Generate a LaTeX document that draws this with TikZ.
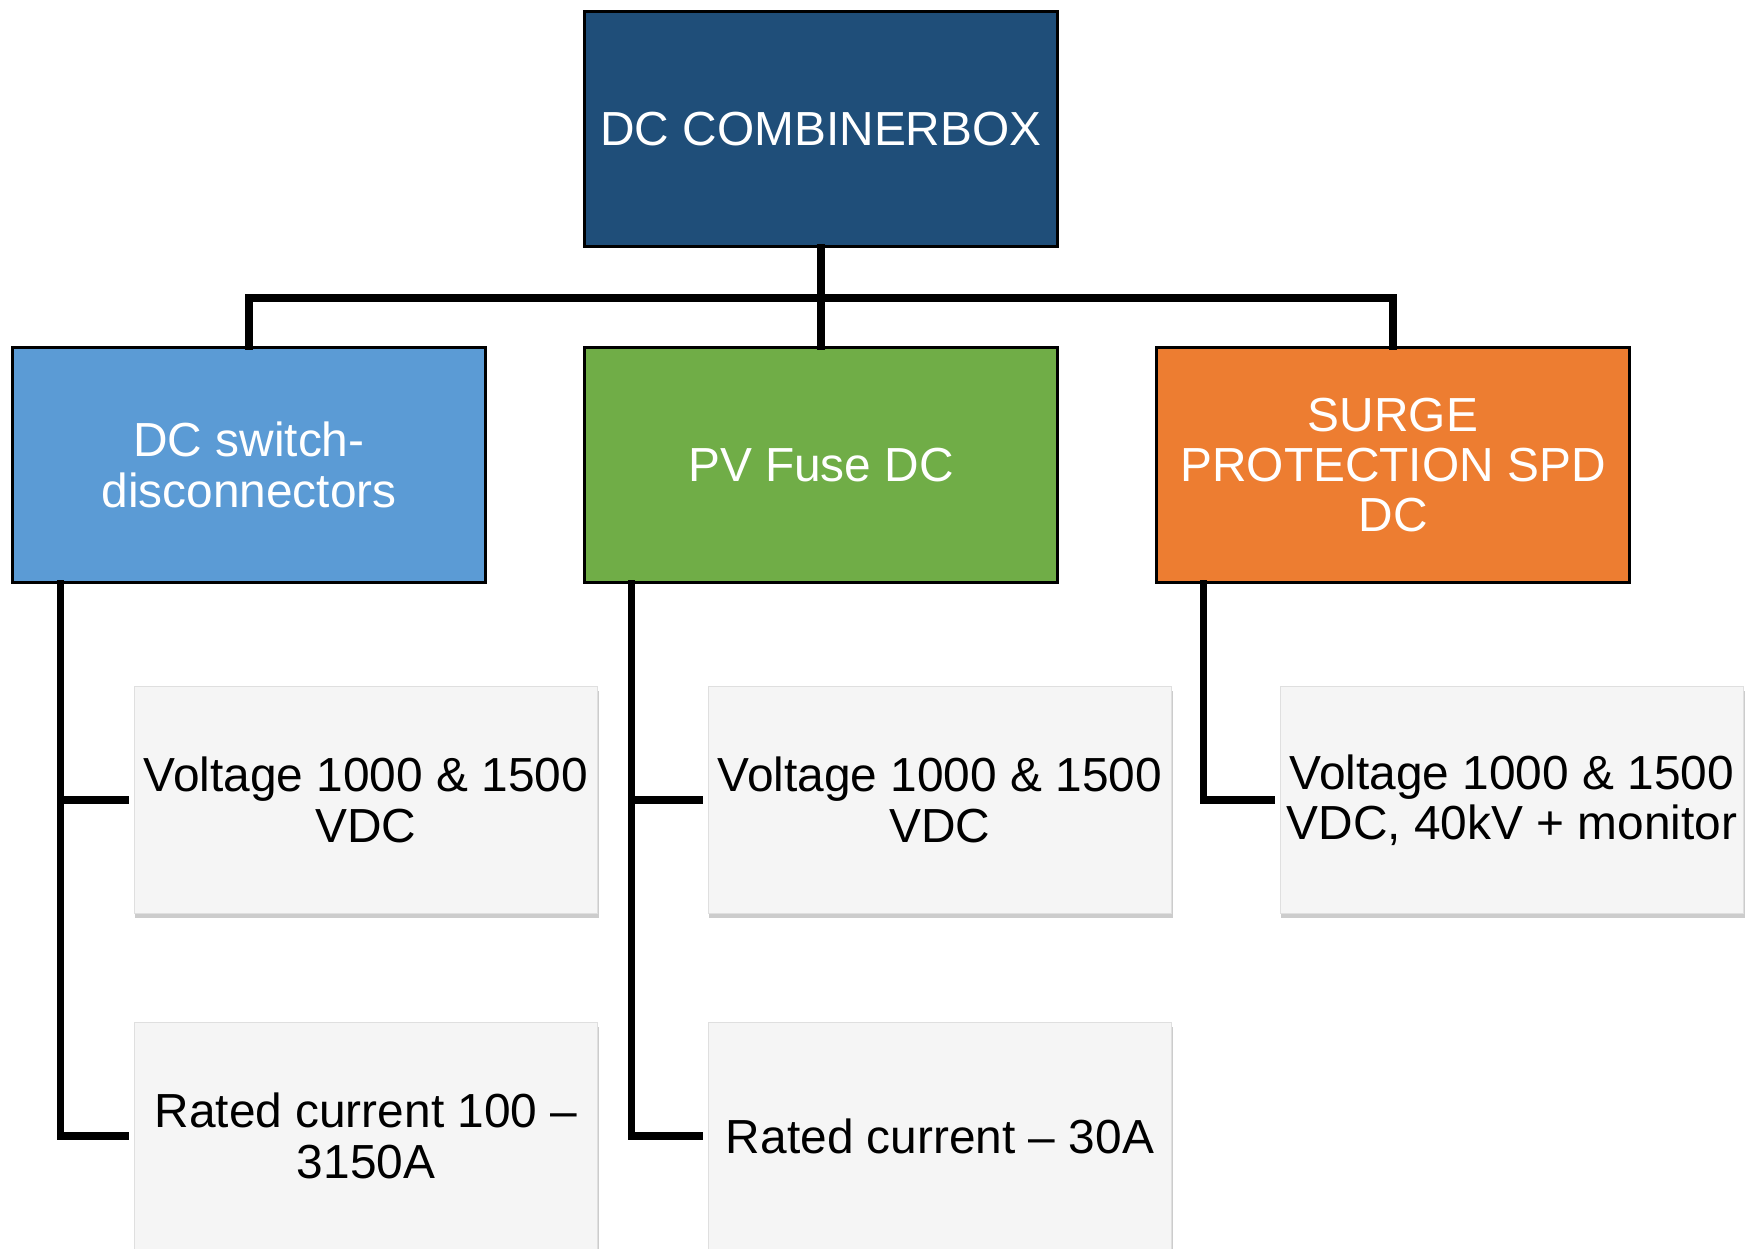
\documentclass[tikz,border=0pt]{standalone}
\usepackage{fontspec}
\setmainfont{Liberation Sans}
\usetikzlibrary{shadows}

\definecolor{topblue}{HTML}{1F4E79}
\definecolor{lightblue}{HTML}{5B9BD5}
\definecolor{fusegreen}{HTML}{70AD47}
\definecolor{surgeorange}{HTML}{ED7D31}
\definecolor{boxgray}{HTML}{F5F5F5}

\tikzset{
  mainbox/.style={draw=black, line width=0.8pt, text=white, align=center,
    minimum width=4.72cm, minimum height=2.35cm, inner sep=0pt,
    font=\fontsize{13.6}{14.3}\selectfont},
  itembox/.style={draw=gray!25, fill=boxgray, align=center,
    minimum width=4.63cm, minimum height=2.27cm, inner sep=0pt,
    font=\fontsize{13.6}{14.3}\selectfont,
    drop shadow={shadow xshift=0.3pt, shadow yshift=-1.4pt, opacity=0.4}},
  conn/.style={line width=2.2pt, line cap=rect}
}

\begin{document}
\begin{tikzpicture}[x=0.01cm, y=-0.01cm]
\useasboundingbox (0,0) rectangle (1758,1249);

% top box
\node[mainbox, fill=topblue] (top) at (821,129) {DC COMBINERBOX};

% second row
\node[mainbox, fill=lightblue] (sw) at (249,465) {DC switch-\\disconnectors};
\node[mainbox, fill=fusegreen] (fuse) at (821,465) {PV Fuse DC};
\node[mainbox, fill=surgeorange] (spd) at (1393,465) {SURGE\\PROTECTION SPD\\DC};

% item boxes
\node[itembox] (sw1) at (366,800) {Voltage 1000 \& 1500\\VDC};
\node[itembox] (sw2) at (366,1136) {Rated current 100 --\\3150A};
\node[itembox] (fuse1) at (940,800) {Voltage 1000 \& 1500\\VDC};
\node[itembox] (fuse2) at (940,1136) {Rated current -- 30A};
\node[itembox] (spd1) at (1512,800) {Voltage 1000 \& 1500\\VDC, 40kV + monitor};

% connectors
\draw[conn] (top.south) -- ++(0,50) -| (sw.north);
\draw[conn] (top.south) -- ++(0,50) -| (spd.north);
\draw[conn] (top.south) -- (fuse.north);

\draw[conn] (sw.south west) ++(49,0) |- ([xshift=-0.09cm]sw1.west);
\draw[conn] (sw.south west) ++(49,0) |- ([xshift=-0.09cm]sw2.west);
\draw[conn] (fuse.south west) ++(48,0) |- ([xshift=-0.09cm]fuse1.west);
\draw[conn] (fuse.south west) ++(48,0) |- ([xshift=-0.09cm]fuse2.west);
\draw[conn] (spd.south west) ++(48,0) |- ([xshift=-0.09cm]spd1.west);

\end{tikzpicture}
\end{document}
